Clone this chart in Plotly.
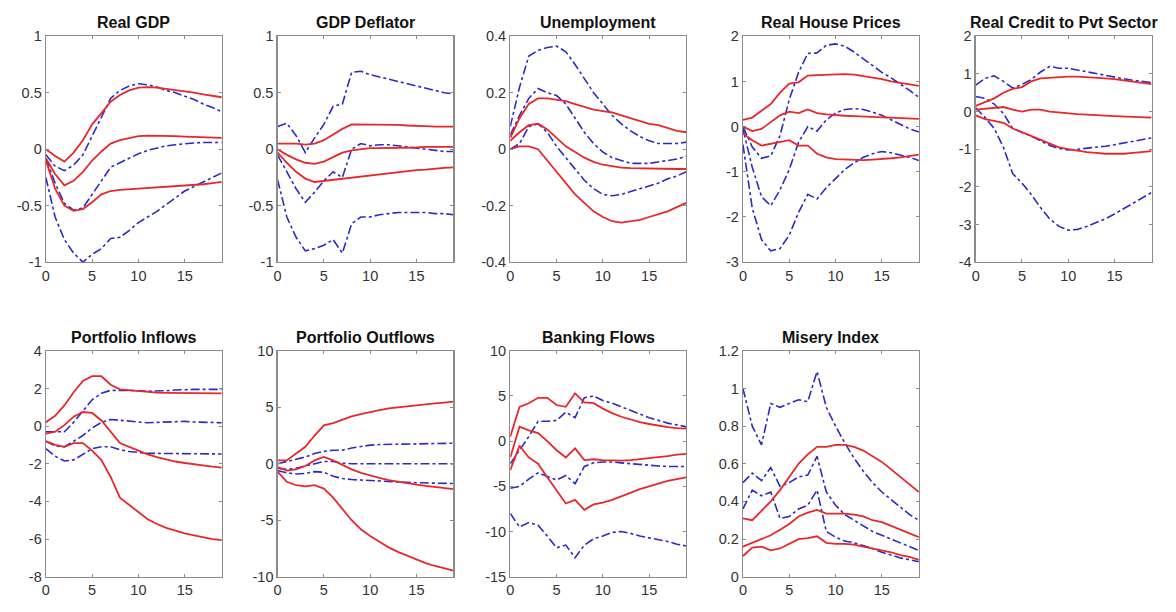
import plotly.graph_objects as go

x = list(range(20))

titles = ["Real GDP", "GDP Deflator", "Unemployment", "Real House Prices",
          "Real Credit to Pvt Sector", "Portfolio Inflows", "Portfolio Outflows",
          "Banking Flows", "Misery Index"]

y_ranges = [[-1, 1], [-1, 1], [-0.4, 0.4], [-3, 2], [-4, 2], [-8, 4], [-10, 10], [-15, 10], [0, 1.2]]
y_ticks = [[-1, -0.5, 0, 0.5, 1], [-1, -0.5, 0, 0.5, 1], [-0.4, -0.2, 0, 0.2, 0.4],
           [-3, -2, -1, 0, 1, 2], [-4, -3, -2, -1, 0, 1, 2], [-8, -6, -4, -2, 0, 2, 4],
           [-10, -5, 0, 5, 10], [-15, -10, -5, 0, 5, 10], [0, 0.2, 0.4, 0.6, 0.8, 1, 1.2]]
y_ticktext = [["-1", "-0.5", "0", "0.5", "1"], ["-1", "-0.5", "0", "0.5", "1"],
              ["-0.4", "-0.2", "0", "0.2", "0.4"], ["-3", "-2", "-1", "0", "1", "2"],
              ["-4", "-3", "-2", "-1", "0", "1", "2"], ["-8", "-6", "-4", "-2", "0", "2", "4"],
              ["-10", "-5", "0", "5", "10"], ["-15", "-10", "-5", "0", "5", "10"],
              ["0", "0.2", "0.4", "0.6", "0.8", "1", "1.2"]]
x_ticks = [0, 5, 10, 15]

# Red solid lines (upper, middle, lower) per panel
red_upper = [
    [0.0, -0.06, -0.11, -0.03, 0.08, 0.22, 0.32, 0.42, 0.48, 0.52, 0.545, 0.55, 0.545, 0.535, 0.52, 0.51, 0.5, 0.485, 0.47, 0.46],
    [0.05, 0.05, 0.05, 0.04, 0.05, 0.08, 0.13, 0.18, 0.22, 0.22, 0.22, 0.22, 0.22, 0.215, 0.21, 0.21, 0.205, 0.2, 0.2, 0.2],
    [0.04, 0.11, 0.16, 0.18, 0.18, 0.175, 0.17, 0.16, 0.15, 0.14, 0.135, 0.13, 0.12, 0.11, 0.1, 0.09, 0.085, 0.075, 0.065, 0.06],
    [0.15, 0.2, 0.35, 0.5, 0.75, 0.95, 0.98, 1.13, 1.14, 1.15, 1.16, 1.16, 1.15, 1.12, 1.08, 1.05, 1.0, 0.97, 0.93, 0.9],
    [0.15, 0.25, 0.35, 0.5, 0.6, 0.65, 0.8, 0.88, 0.9, 0.92, 0.93, 0.93, 0.92, 0.9, 0.88, 0.86, 0.83, 0.8, 0.77, 0.73],
    [0.2, 0.55, 1.1, 1.8, 2.4, 2.65, 2.65, 2.2, 1.95, 1.9, 1.85, 1.8, 1.78, 1.77, 1.76, 1.75, 1.75, 1.75, 1.74, 1.74],
    [0.3, 0.3, 0.9, 1.5, 2.5, 3.4, 3.6, 3.9, 4.2, 4.4, 4.6, 4.75, 4.9, 5.0, 5.1, 5.2, 5.28, 5.35, 5.42, 5.5],
    [0.5, 3.8, 4.2, 4.8, 4.8, 4.0, 3.8, 5.3, 4.3, 4.2, 3.6, 3.1, 2.7, 2.4, 2.1, 1.9, 1.7, 1.55, 1.45, 1.4],
    [0.31, 0.3, 0.35, 0.4, 0.46, 0.53, 0.6, 0.65, 0.69, 0.69, 0.7, 0.7, 0.69, 0.67, 0.64, 0.61, 0.57, 0.53, 0.49, 0.45],
]
red_middle = [
    [-0.08, -0.22, -0.32, -0.28, -0.2, -0.1, -0.02, 0.05, 0.08, 0.1, 0.115, 0.12, 0.12, 0.118, 0.115, 0.112, 0.11, 0.105, 0.102, 0.1],
    [0.0, -0.05, -0.09, -0.12, -0.13, -0.11, -0.07, -0.03, -0.01, 0.0, 0.01, 0.01, 0.01, 0.015, 0.015, 0.015, 0.02, 0.02, 0.02, 0.02],
    [0.03, 0.06, 0.085, 0.09, 0.07, 0.04, 0.01, -0.01, -0.03, -0.045, -0.055, -0.06, -0.065, -0.067, -0.068, -0.069, -0.07, -0.07, -0.07, -0.07],
    [0.0, -0.1, -0.05, 0.1, 0.25, 0.33, 0.3, 0.38, 0.3, 0.27, 0.25, 0.24, 0.23, 0.22, 0.21, 0.2, 0.19, 0.18, 0.17, 0.17],
    [0.05, 0.08, 0.1, 0.12, 0.05, 0.0, 0.05, 0.05, 0.0, -0.03, -0.05, -0.07, -0.08, -0.1, -0.11, -0.12, -0.13, -0.14, -0.15, -0.16],
    [-0.4, -0.3, 0.05, 0.5, 0.75, 0.7, 0.3, -0.3, -0.9, -1.1, -1.3, -1.5, -1.65, -1.78, -1.88, -1.96, -2.03, -2.1, -2.15, -2.2],
    [-0.3, -0.6, -0.5, -0.2, 0.3, 0.6, 0.3, -0.1, -0.5, -0.8, -1.05, -1.25, -1.45, -1.6, -1.75, -1.85, -1.95, -2.05, -2.15, -2.25],
    [-1.8, 1.6, 1.2, 0.9, 0.0, -1.0, -1.8, -0.8, -2.1, -2.0, -2.1, -2.15, -2.15, -2.1, -2.0, -1.9, -1.8, -1.65, -1.5, -1.4],
    [0.16, 0.18, 0.2, 0.22, 0.25, 0.28, 0.32, 0.34, 0.355, 0.335, 0.335, 0.335, 0.33, 0.32, 0.3, 0.29, 0.27, 0.25, 0.23, 0.21],
]
red_lower = [
    [-0.1, -0.35, -0.5, -0.545, -0.53, -0.47, -0.4, -0.37, -0.36, -0.355, -0.35, -0.345, -0.34, -0.335, -0.33, -0.32, -0.315, -0.31, -0.3, -0.29],
    [-0.03, -0.12, -0.2, -0.26, -0.29, -0.28, -0.27, -0.26, -0.25, -0.24, -0.235, -0.225, -0.215, -0.205, -0.195, -0.185, -0.18, -0.17, -0.165, -0.16],
    [0.0, 0.01, 0.01, 0.0, -0.04, -0.08, -0.12, -0.16, -0.19, -0.22, -0.24, -0.255, -0.26, -0.255, -0.25, -0.24, -0.23, -0.22, -0.205, -0.19],
    [-0.15, -0.3, -0.42, -0.38, -0.35, -0.3, -0.42, -0.42, -0.6, -0.68, -0.72, -0.73, -0.74, -0.74, -0.73, -0.72, -0.7, -0.68, -0.65, -0.62],
    [-0.1, -0.2, -0.25, -0.3, -0.45, -0.55, -0.65, -0.75, -0.85, -0.95, -1.0, -1.05, -1.08, -1.1, -1.12, -1.12, -1.12, -1.1, -1.08, -1.05],
    [-0.8, -1.0, -1.1, -0.9, -0.9, -1.3, -1.8, -2.7, -3.8, -4.2, -4.6, -4.95, -5.2, -5.4, -5.55, -5.7, -5.8, -5.9, -6.0, -6.05],
    [-0.7, -1.6, -1.9, -2.0, -1.9, -2.2, -3.0, -4.0, -5.0, -5.8, -6.4, -6.9, -7.4, -7.8, -8.15, -8.5, -8.8, -9.05, -9.25, -9.45],
    [-3.2, -0.5, -1.8, -2.5, -4.0, -5.5, -6.9, -6.5, -7.6, -7.0, -6.8, -6.5, -6.1, -5.7, -5.3, -5.0, -4.7, -4.4, -4.2, -4.0],
    [0.11, 0.155, 0.16, 0.14, 0.15, 0.175, 0.2, 0.205, 0.215, 0.18, 0.175, 0.175, 0.17, 0.16, 0.15, 0.14, 0.13, 0.115, 0.105, 0.09],
]

# Blue dash-dot lines (upper, middle, lower) per panel
blue_upper = [
    [-0.05, -0.15, -0.19, -0.14, -0.05, 0.12, 0.28, 0.45, 0.52, 0.56, 0.58, 0.57, 0.55, 0.52, 0.5, 0.47, 0.44, 0.4, 0.37, 0.33],
    [0.2, 0.23, 0.12, -0.03, 0.1, 0.22, 0.38, 0.4, 0.68, 0.69, 0.66, 0.64, 0.62, 0.6, 0.58, 0.56, 0.54, 0.52, 0.5, 0.49],
    [0.08, 0.22, 0.33, 0.35, 0.36, 0.365, 0.345, 0.3, 0.25, 0.2, 0.16, 0.12, 0.09, 0.065, 0.045, 0.03, 0.02, 0.02, 0.02, 0.025],
    [0.0, -0.45, -0.7, -0.65, -0.2, 0.6, 1.2, 1.62, 1.63, 1.8, 1.83, 1.78, 1.65, 1.5, 1.35, 1.2, 1.08, 0.95, 0.8, 0.65],
    [0.7, 0.88, 0.95, 0.8, 0.62, 0.72, 0.85, 1.05, 1.2, 1.15, 1.15, 1.1, 1.05, 1.0, 0.95, 0.9, 0.87, 0.83, 0.8, 0.77],
    [-0.3, -0.3, -0.3, 0.2, 0.8, 1.4, 1.75, 1.9, 1.9, 1.9, 1.88, 1.85, 1.85, 1.88, 1.92, 1.95, 1.95, 1.95, 1.95, 1.95],
    [0.0, 0.2, 0.4, 0.6, 0.9, 1.1, 1.2, 1.2, 1.4, 1.55, 1.65, 1.7, 1.72, 1.75, 1.77, 1.78, 1.8, 1.8, 1.82, 1.82],
    [-2.5, -1.0, 0.5, 2.2, 2.2, 2.3, 3.2, 2.6, 4.8, 5.0, 4.5, 4.2, 3.8, 3.4, 3.0, 2.6, 2.3, 2.0, 1.8, 1.6],
    [1.0, 0.8, 0.7, 0.92, 0.9, 0.92, 0.94, 0.93, 1.09, 0.9, 0.8, 0.71, 0.63, 0.56, 0.5, 0.45, 0.41, 0.37, 0.33, 0.3],
]
blue_middle = [
    [-0.08, -0.3, -0.48, -0.54, -0.52, -0.4, -0.28, -0.16, -0.12, -0.08, -0.04, -0.01, 0.01, 0.03, 0.04, 0.05, 0.055, 0.06, 0.06, 0.06],
    [-0.05, -0.2, -0.35, -0.47, -0.38, -0.28, -0.2, -0.25, 0.0, 0.05, 0.03, 0.04, 0.04, 0.03, 0.02, 0.01, 0.0, -0.01, -0.02, -0.02],
    [0.05, 0.12, 0.18, 0.215, 0.2, 0.19, 0.16, 0.11, 0.06, 0.02, -0.01, -0.03, -0.04, -0.05, -0.05, -0.05, -0.045, -0.04, -0.035, -0.025],
    [-0.05, -0.9, -1.55, -1.75, -1.4, -0.95, -0.35, 0.0, -0.1, 0.15, 0.3, 0.38, 0.4, 0.38, 0.32, 0.25, 0.15, 0.05, -0.05, -0.12],
    [0.4, 0.35, 0.2, -0.05, -0.45, -0.55, -0.65, -0.78, -0.9, -0.98, -1.02, -1.0, -0.98, -0.95, -0.92, -0.88, -0.84, -0.8, -0.75, -0.7],
    [-0.8, -1.05, -1.1, -0.8, -0.5, -0.1, 0.2, 0.35, 0.3, 0.25, 0.2, 0.18, 0.2, 0.22, 0.25, 0.25, 0.22, 0.2, 0.18, 0.18],
    [-0.4, -0.5, -0.4, -0.2, 0.0, 0.2, 0.2, 0.05, 0.0, 0.0, 0.0, 0.0, 0.0, 0.0, 0.0, 0.0, 0.0, 0.0, 0.0, 0.0],
    [-5.2, -5.0, -4.2, -3.5, -3.9, -4.3, -3.8, -4.7, -2.8, -2.4, -2.3, -2.3, -2.4, -2.5, -2.6, -2.7, -2.75, -2.8, -2.8, -2.8],
    [0.5, 0.55, 0.51, 0.58, 0.48, 0.5, 0.53, 0.54, 0.64, 0.45, 0.38, 0.33, 0.3, 0.27, 0.24, 0.22, 0.2, 0.18, 0.16, 0.14],
]
blue_lower = [
    [-0.25, -0.6, -0.8, -0.92, -1.0, -0.93, -0.88, -0.79, -0.78, -0.72, -0.65, -0.6, -0.55, -0.49, -0.43, -0.37, -0.33, -0.29, -0.25, -0.21],
    [-0.27, -0.6, -0.78, -0.9, -0.88, -0.85, -0.8, -0.92, -0.66, -0.6, -0.6, -0.58, -0.57, -0.56, -0.56, -0.56, -0.56, -0.57, -0.57, -0.58],
    [0.0, 0.02, 0.08, 0.09, 0.06, 0.01, -0.03, -0.07, -0.11, -0.14, -0.16, -0.165, -0.16, -0.15, -0.14, -0.13, -0.12, -0.105, -0.095, -0.08],
    [-0.4, -1.8, -2.5, -2.75, -2.7, -2.4, -1.9, -1.5, -1.6, -1.35, -1.15, -0.95, -0.8, -0.68, -0.6, -0.55, -0.58, -0.63, -0.68, -0.75],
    [0.1, -0.15, -0.45, -0.95, -1.65, -1.9, -2.2, -2.55, -2.85, -3.05, -3.15, -3.13, -3.05, -2.95, -2.85, -2.72, -2.58, -2.45, -2.3, -2.15],
    [-1.2, -1.6, -1.85, -1.8, -1.5, -1.2, -1.1, -1.1, -1.25, -1.35, -1.4, -1.45, -1.45, -1.45, -1.45, -1.45, -1.45, -1.48, -1.48, -1.48],
    [-0.6, -0.8, -0.9, -0.85, -0.7, -0.75, -1.1, -1.3, -1.4, -1.45, -1.5, -1.55, -1.6, -1.62, -1.65, -1.68, -1.7, -1.72, -1.73, -1.75],
    [-8.0, -9.5, -9.0, -9.3, -10.5, -11.8, -11.5, -12.9, -11.5, -10.8, -10.5, -10.1, -10.0, -10.2, -10.5, -10.7, -10.9, -11.1, -11.4, -11.6],
    [0.36, 0.46, 0.43, 0.45, 0.31, 0.32, 0.36, 0.38, 0.46, 0.24, 0.21, 0.19, 0.18, 0.165, 0.15, 0.13, 0.115, 0.1, 0.09, 0.08],
]

W, H = 1176, 612
col_left = [42, 274.5, 508, 741.5, 975]
panel_w = 176.5
row_top = [29, 352]
panel_h = 232

RED = "#e8272a"
BLUE = "#2b2bc4"
AXC = "#8c8c8c"
TXT = "#333333"
FONT = "Liberation Sans, Arial, Helvetica, sans-serif"

fig = go.Figure()
layout = {}
annotations = []
for i in range(9):
    r, c = divmod(i, 5)
    x0 = col_left[c] / W
    x1 = (col_left[c] + panel_w) / W
    y1 = 1 - row_top[r] / H
    y0 = 1 - (row_top[r] + panel_h) / H
    n = i + 1
    xa = "x" if n == 1 else f"x{n}"
    ya = "y" if n == 1 else f"y{n}"
    for series, color, dash, w in [(blue_upper[i], BLUE, "dashdot", 1.6), (blue_middle[i], BLUE, "dashdot", 1.6),
                                   (blue_lower[i], BLUE, "dashdot", 1.6), (red_upper[i], RED, "solid", 1.8),
                                   (red_middle[i], RED, "solid", 1.8), (red_lower[i], RED, "solid", 1.8)]:
        fig.add_trace(go.Scatter(x=x, y=series, mode="lines", xaxis=xa, yaxis=ya,
                                 line=dict(color=color, width=w, dash=dash),
                                 showlegend=False, hoverinfo="skip"))
    common = dict(showline=True, linecolor=AXC, linewidth=1.2, mirror="ticks",
                  ticks="inside", ticklen=3, tickcolor=AXC, showgrid=False,
                  zeroline=False, tickfont=dict(family=FONT, size=14.5, color=TXT))
    layout["xaxis" if n == 1 else f"xaxis{n}"] = dict(
        domain=[x0, x1], anchor=ya, range=[0, 19], tickvals=x_ticks,
        ticktext=[str(v) for v in x_ticks], **common)
    layout["yaxis" if n == 1 else f"yaxis{n}"] = dict(
        domain=[y0, y1], anchor=xa, range=y_ranges[i], tickvals=y_ticks[i],
        ticktext=y_ticktext[i], **common)
    annotations.append(dict(text=f"<b>{titles[i]}</b>", x=(x0 + x1) / 2, y=y1 + 3 / H,
                            xref="paper", yref="paper", xanchor="center", yanchor="bottom",
                            showarrow=False, font=dict(family=FONT, size=16, color="#111111")))

fig.update_layout(width=W, height=H, margin=dict(l=0, r=0, t=0, b=0),
                  plot_bgcolor="white", paper_bgcolor="white",
                  annotations=annotations, **layout)
fig.write_html("out.html", config={"displayModeBar": False, "staticPlot": True},
               post_script="document.body.style.margin='0px';document.body.style.overflow='hidden';")
